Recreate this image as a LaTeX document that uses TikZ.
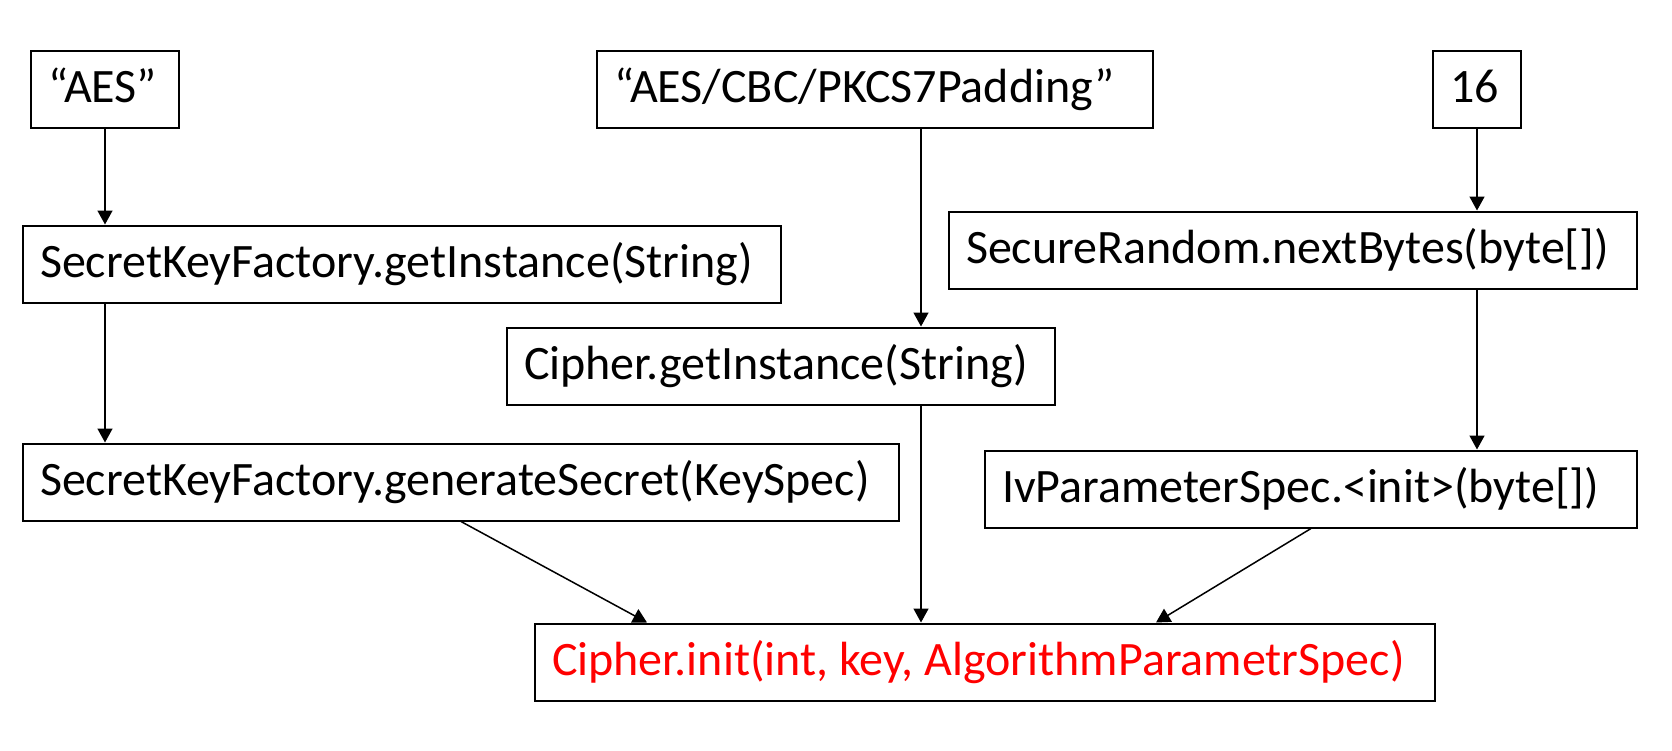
\documentclass[tikz,border=0pt]{standalone}
\usepackage{fontspec}
\setmainfont{Carlito}
\usetikzlibrary{arrows.meta}
\newcommand\lbx[2]{\makebox[#1][l]{#2}}
\begin{document}
\begin{tikzpicture}[x=1pt,y=-1pt,
  box/.style={draw=black, line width=2pt, rectangle, inner xsep=17pt, inner ysep=0pt,
    text height=52pt, text depth=25pt, font=\fontsize{48}{58}\selectfont},
  arr/.style={line width=1.5pt, -{Triangle[width=15pt,length=14pt]}}]
\useasboundingbox (0,0) rectangle (1672,750);
\fill[white] (0,0) rectangle (1672,750);
% top row
\node[box] (aes) at (105,89) {\lbx{114pt}{“AES”}};
\node[box] (acbc) at (875,89) {\lbx{522pt}{“AES/CBC/PKCS7Padding”}};
\node[box] (sixteen) at (1477,89) {\lbx{54pt}{16}};
% second row
\node[box] (skfi) at (402,264) {\lbx{724pt}{SecretKeyFactory.getInstance(String)}};
\node[box] (srnb) at (1293,250) {\lbx{654pt}{SecureRandom.nextBytes(byte[])}};
\node[box] (cgi) at (781,366) {\lbx{514pt}{Cipher.getInstance(String)}};
\node[box] (skfg) at (461,482) {\lbx{842pt}{SecretKeyFactory.generateSecret(KeySpec)}};
\node[box] (ivps) at (1311,489) {\lbx{618pt}{IvParameterSpec.<init>(byte[])}};
\node[box, text=red] (cinit) at (985,662) {\lbx{866pt}{Cipher.init(int, key, AlgorithmParametrSpec)}};
\coordinate (mid) at (921,0);
% connectors
\draw[arr] (aes.south) -- (aes.south |- skfi.north);
\draw[arr] (aes.south |- skfi.south) -- (aes.south |- skfg.north);
\draw[arr] (mid |- acbc.south) -- (mid |- cgi.north);
\draw[arr] (mid |- cgi.south) -- (mid |- cinit.north);
\draw[arr] (sixteen.south) -- (sixteen.south |- srnb.north);
\draw[arr] (sixteen.south |- srnb.south) -- (sixteen.south |- ivps.north);
\draw[arr] (skfg.south) -- ([xshift=113pt]cinit.north west);
\draw[arr] (ivps.south) -- ([xshift=622pt]cinit.north west);
\end{tikzpicture}
\end{document}
